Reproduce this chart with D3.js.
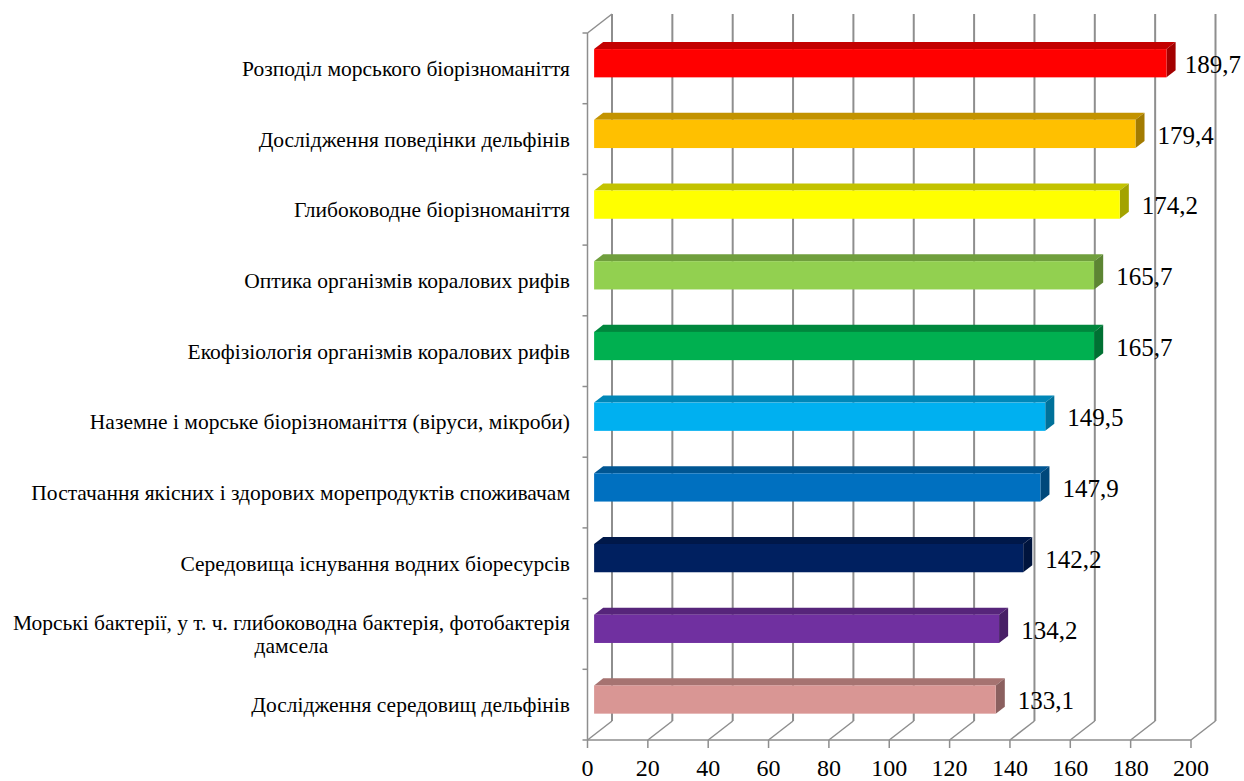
<!DOCTYPE html>
<html><head><meta charset="utf-8">
<script src="https://cdn.jsdelivr.net/npm/d3@7"></script>
<style>body{margin:0;background:#fff}svg{display:block}</style>
</head><body>
<script>
const categories = [
  "Розподіл морського біорізноманіття",
  "Дослідження поведінки дельфінів",
  "Глибоководне біорізноманіття",
  "Оптика організмів коралових рифів",
  "Екофізіологія організмів коралових рифів",
  "Наземне і морське біорізноманіття (віруси, мікроби)",
  "Постачання якісних і здорових морепродуктів споживачам",
  "Середовища існування водних біоресурсів ",
  "Морські бактерії, у т. ч. глибоководна бактерія, фотобактерія|дамсела",
  "Дослідження середовищ дельфінів"
];
const values = [189.7, 179.4, 174.2, 165.7, 165.7, 149.5, 147.9, 142.2, 134.2, 133.1];
const valueLabels = ["189,7","179,4","174,2","165,7","165,7","149,5","147,9","142,2","134,2","133,1"];
const colors = ["#FF0000","#FFC000","#FFFF00","#92D050","#00B050","#00B0F0","#0070C0","#002060","#7030A0","#D99694"];
const ticks = [0,20,40,60,80,100,120,140,160,180,200];

const W = 1244, H = 781;
const svg = d3.select("body").append("svg").attr("width", W).attr("height", H);

const x = d3.scaleLinear().domain([0,200]).range([587.5, 1191]);
const y = d3.scaleBand().domain(categories).range([33, 740]).paddingInner(0.6).paddingOuter(0.3);
const yTop = 33, yBot = 740;
const DX = 24.5, DY = 19;      // depth offset of back wall
const f1 = 0.27, f2 = 0.64;    // bar front/back depth fraction
const grid = "#8e8e8e";
const serif = "'Liberation Serif','Times New Roman',serif";

const g = svg.append("g");
ticks.forEach(t => {
  g.append("line").attr("x1", x(t)+DX).attr("x2", x(t)+DX).attr("y1", yTop-DY).attr("y2", yBot-DY)
    .attr("stroke", grid).attr("stroke-width", 2);
  g.append("line").attr("x1", x(t)).attr("y1", yBot).attr("x2", x(t)+DX).attr("y2", yBot-DY)
    .attr("stroke", grid).attr("stroke-width", 1.5);
  g.append("line").attr("x1", x(t)).attr("x2", x(t)).attr("y1", yBot).attr("y2", yBot+8)
    .attr("stroke", grid).attr("stroke-width", 1.5);
});
g.append("line").attr("x1", x(0)).attr("x2", x(200)).attr("y1", yBot).attr("y2", yBot).attr("stroke", grid).attr("stroke-width", 1.5);
g.append("line").attr("x1", x(0)).attr("x2", x(0)).attr("y1", yTop).attr("y2", yBot).attr("stroke", grid).attr("stroke-width", 1.5);
g.append("line").attr("x1", x(0)).attr("y1", yTop).attr("x2", x(0)+DX).attr("y2", yTop-DY).attr("stroke", grid).attr("stroke-width", 1.5);
const step = y.step();
for (let i = 0; i <= categories.length; i++) {
  const yy = yTop + i*step;
  g.append("line").attr("x1", x(0)-5).attr("x2", x(0)).attr("y1", yy).attr("y2", yy).attr("stroke", grid).attr("stroke-width", 1.5);
}

const bw = y.bandwidth();
categories.forEach((c, i) => {
  const v = values[i];
  const col = d3.color(colors[i]);
  const top = col.darker(0.75).formatHex();
  const side = col.darker(1.25).formatHex();
  const xl1 = x(0)+f1*DX, xr1 = x(v)+f1*DX, xl2 = x(0)+f2*DX, xr2 = x(v)+f2*DX;
  const yt1 = y(c)-f1*DY, yb1 = y(c)+bw-f1*DY, yt2 = y(c)-f2*DY, yb2 = y(c)+bw-f2*DY;
  g.append("polygon").attr("points", [[xl1,yt1],[xr1,yt1],[xr2,yt2],[xl2,yt2]].join(" ")).attr("fill", top);
  g.append("polygon").attr("points", [[xr1,yt1],[xr2,yt2],[xr2,yb2],[xr1,yb1]].join(" ")).attr("fill", side);
  g.append("rect").attr("x", xl1).attr("y", yt1).attr("width", xr1-xl1).attr("height", bw).attr("fill", col.formatHex());
  const t = g.append("text").attr("x", xr2+13).attr("y", (yt1+yb1)/2+1).attr("dy","0.35em")
    .attr("font-family", serif).attr("font-size", 25).attr("fill","#000").text(valueLabels[i]);
  const tw = t.node().getComputedTextLength();
  if (xr2 + 13 + tw > W - 3) t.attr("x", W - 3 - tw);
});

categories.forEach(c => {
  const lines = c.split("|");
  const cy = y(c) + bw/2;
  const t = svg.append("text").attr("font-family", serif).attr("font-size", 21.5).attr("fill","#000");
  const lh = 23;
  lines.forEach((ln, k) => {
    t.append("tspan").attr("x", 570).attr("y", cy - (lines.length-1)*lh/2 + k*lh).attr("dy","0.35em").text(ln);
  });
  if (lines.length > 1) {
    let maxW = 0;
    t.selectAll("tspan").each(function(){ maxW = Math.max(maxW, this.getComputedTextLength()); });
    t.attr("text-anchor","middle").selectAll("tspan").attr("x", 570 - maxW/2);
  } else {
    t.attr("text-anchor","end");
  }
});

svg.append("g").selectAll("text").data(ticks).join("text")
  .attr("x", d => x(d)).attr("y", 775.5).attr("text-anchor","middle")
  .attr("font-family", serif).attr("font-size", 24).attr("fill","#000").text(d => d);
</script>
</body></html>
